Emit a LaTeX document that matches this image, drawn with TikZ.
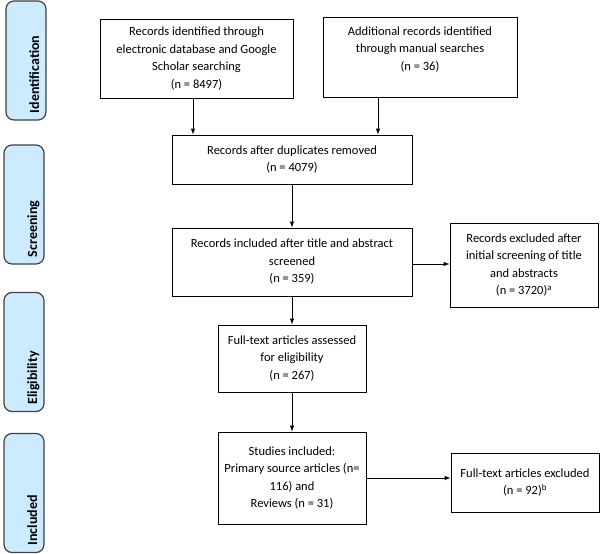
\documentclass[tikz,border=0pt]{standalone}
\usepackage{fontspec}
\setmainfont{Carlito}
\usepackage{tikz}
\usetikzlibrary{arrows}
\definecolor{phasefill}{HTML}{CCEBFF}
\definecolor{phaseline}{HTML}{404040}
\tikzset{
	box/.style={draw, line width=1pt, align=center, inner sep=2pt,
		font=\fontsize{12.5}{17.5}\selectfont},
	phase/.style={draw=phaseline, fill=phasefill, line width=1.2pt, rounded corners=8pt,
		rotate=90, minimum width=119pt, minimum height=40pt, text width=105pt, align=left,
		text height=28pt, text depth=2pt, font=\fontsize{14}{16}\selectfont\bfseries},
	arr/.style={-latex, line width=1pt},
}

\begin{document}
\begin{tikzpicture}[x=1pt,y=-1pt]
\useasboundingbox (0,0) rectangle (600,554);
% phases
\node[phase] (ident) at (26,60.5) {Identification};
\node[phase] (screen) at (24,204.5) {Screening};
\node[phase] (elig) at (24,352) {Eligibility};
\node[phase] (incl) at (24,493) {Included};
% boxes
\node[box, minimum width=193pt, minimum height=79pt] (recdb) at (196.5,58.5)
	{Records identified through\\electronic database and Google\\Scholar searching\\(n = 8497)};
\node[box, minimum width=194pt, minimum height=80pt] (recman) at (420,57)
	{Additional records identified\\through manual searches\\(n = 36)\\\mbox{}};
\node[box, minimum width=240pt, minimum height=49pt] (dupl) at (292,159.5)
	{Records after duplicates removed\\(n = 4079)};
\node[box, minimum width=240pt, minimum height=68pt] (title) at (292,262)
	{Records included after title and abstract\\screened\\(n = 359)};
\node[box, minimum width=148pt, minimum height=84pt] (excl) at (524,265)
	{Records excluded after\\initial screening of title\\and abstracts\\(n = 3720)\textsuperscript{a}};
\node[box, minimum width=148pt, minimum height=67pt] (full) at (292,358.5)
	{Full-text articles assessed\\for eligibility\\(n = 267)};
\node[box, minimum width=148pt, minimum height=92pt] (incl2) at (292,478)
	{Studies included:\\Primary source articles (n=\\116) and\\Reviews (n = 31)};
\node[box, minimum width=148pt, minimum height=59pt] (fullex) at (525,482.5)
	{Full-text articles excluded\\(n = 92)\textsuperscript{b}};
% arrows
\draw[arr] ([xshift=-3.5pt]recdb.south) -- ([xshift=-3.5pt]recdb.south |- dupl.north);
\draw[arr] ([xshift=-42pt]recman.south) -- ([xshift=-42pt]recman.south |- dupl.north);
\draw[arr] (dupl) -- (title);
\draw[arr] (title) -- (full);
\draw[arr] (full) -- (incl2);
\draw[arr] ([yshift=-2pt]title.east) -- ([yshift=-2pt]title.east -| excl.west);
\draw[arr] (incl2.east) -- (incl2.east -| fullex.west);
\end{tikzpicture}
\end{document}
